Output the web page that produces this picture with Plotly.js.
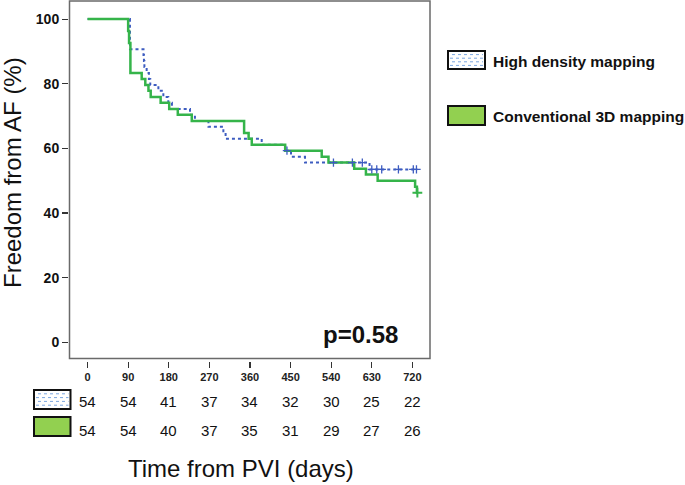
<!DOCTYPE html>
<html><head><meta charset="utf-8">
<script src="https://cdn.plot.ly/plotly-3.0.1.min.js"></script>
<style>html,body{margin:0;padding:0;background:#fff}</style>
</head><body><div id="chart" style="width:685px;height:485px"></div>
<script>
// ---- data ----
const seriesNames = ["High density mapping", "Conventional 3D mapping"];
const hdDays = [0, 94, 124, 125, 126, 131, 136, 139, 157, 168, 179, 187, 227, 238, 268, 301, 306, 386, 438, 451, 482, 625, 731];
const hdSurv = [100, 90.7, 88.9, 87.0, 85.2, 83.3, 81.5, 79.6, 77.8, 75.9, 74.1, 72.2, 70.4, 68.5, 66.7, 64.8, 63.0, 61.1, 59.3, 57.4, 55.6, 53.5, 53.5];
const hdCensDays = [442, 545, 587, 609, 630, 641, 652, 689, 722, 729];
const hdCensSurv = [59.3, 55.6, 55.6, 55.6, 53.5, 53.5, 53.5, 53.5, 53.5, 53.5];
const c3dDays = [0, 90, 92, 95, 120, 128, 135, 140, 162, 181, 200, 231, 347, 357, 364, 438, 519, 534, 591, 617, 643, 726, 730, 731];
const c3dSurv = [100, 96.3, 92.6, 83.3, 81.5, 79.6, 77.8, 75.9, 74.1, 72.2, 70.4, 68.5, 64.8, 63.0, 61.1, 59.3, 57.4, 55.6, 53.7, 51.9, 50.0, 48.1, 46.3, 46.3];
const c3dCensDays = [731];
const c3dCensSurv = [46.3];
const tickDays = [0, 90, 180, 270, 360, 450, 540, 630, 720];
const yTicks = [0, 20, 40, 60, 80, 100];
const hdRisk = [54, 54, 41, 37, 34, 32, 30, 25, 22];
const c3dRisk = [54, 54, 40, 37, 35, 31, 29, 27, 26];
const pText = "p=0.58";

// ---- styling ----
const W = 685, H = 485;
const fx = p => p / W, fy = p => 1 - p / H;
const BLUE = "#3d5cc0", GREEN = "#35b44a", SWGREEN = "#92d050";
const FONT = "Arial, 'Liberation Sans', sans-serif";

const traces = [
  {x: hdDays, y: hdSurv, type: "scatter", mode: "lines", line: {shape: "hv", color: BLUE, width: 2, dash: "dot"}, name: seriesNames[0], hoverinfo: "skip"},
  {x: c3dDays, y: c3dSurv, type: "scatter", mode: "lines", line: {shape: "hv", color: GREEN, width: 2.5}, name: seriesNames[1], hoverinfo: "skip"},
  {x: hdCensDays, y: hdCensSurv, type: "scatter", mode: "markers", marker: {symbol: "cross-thin", size: 6, line: {color: BLUE, width: 1.3}}, hoverinfo: "skip"},
  {x: c3dCensDays, y: c3dCensSurv, type: "scatter", mode: "markers", marker: {symbol: "cross-thin", size: 7, line: {color: GREEN, width: 2}}, hoverinfo: "skip"}
];

const shapes = [
  {type: "rect", xref: "x domain", yref: "y domain", x0: 0, x1: 1, y0: 0, y1: 1, line: {color: "#6a6a6a", width: 1.5}, fillcolor: "rgba(0,0,0,0)"}
];
function swatch(x0, y0, x1, y1, fill, hatched) {
  shapes.push({type: "rect", xref: "paper", yref: "paper", x0: fx(x0), x1: fx(x1), y0: fy(y1), y1: fy(y0), fillcolor: fill, line: {color: "#111", width: 2}});
  if (hatched) {
    const n = 4, step = (y1 - y0) / (n + 1);
    for (let i = 1; i <= n; i++) {
      const yy = y0 + step * i;
      shapes.push({type: "line", xref: "paper", yref: "paper", x0: fx(x0 + 2 + (i % 2) * 2), x1: fx(x1 - 2), y0: fy(yy), y1: fy(yy), line: {color: "#7aa6e0", width: 1, dash: "3px,3px"}});
    }
  }
}
swatch(448, 51, 485, 69, "#ffffff", true);
swatch(448, 106, 485, 125, SWGREEN, false);
swatch(34, 390, 70.5, 409, "#ffffff", true);
swatch(34, 417, 70.5, 436, SWGREEN, false);

const annotations = [];
tickDays.forEach((d, i) => {
  annotations.push({x: d, xref: "x", y: fy(401), yref: "paper", text: String(hdRisk[i]), showarrow: false, xanchor: "center", yanchor: "middle", font: {family: FONT, size: 15, color: "#111"}});
  annotations.push({x: d, xref: "x", y: fy(430.5), yref: "paper", text: String(c3dRisk[i]), showarrow: false, xanchor: "center", yanchor: "middle", font: {family: FONT, size: 15, color: "#111"}});
});
annotations.push({x: fx(491), y: fy(61), xref: "paper", yref: "paper", text: seriesNames[0], showarrow: false, xanchor: "left", yanchor: "middle", font: {family: FONT, size: 15.5, weight: 700, color: "#111"}});
annotations.push({x: fx(491), y: fy(116), xref: "paper", yref: "paper", text: seriesNames[1], showarrow: false, xanchor: "left", yanchor: "middle", font: {family: FONT, size: 15.5, weight: 700, color: "#111"}});
annotations.push({x: fx(360), y: fy(334), xref: "paper", yref: "paper", text: pText, showarrow: false, xanchor: "center", yanchor: "middle", font: {family: FONT, size: 24, weight: 700, color: "#111"}});
annotations.push({x: fx(241), y: fy(468), xref: "paper", yref: "paper", text: "Time from PVI (days)", showarrow: false, xanchor: "center", yanchor: "middle", font: {family: FONT, size: 24, color: "#111"}});
annotations.push({x: fx(12), y: fy(173), xref: "paper", yref: "paper", text: "Freedom from AF (%)", textangle: -90, showarrow: false, xanchor: "center", yanchor: "middle", font: {family: FONT, size: 24, color: "#111"}});

const layout = {
  width: W, height: H, margin: {l: 0, r: 0, t: 0, b: 0},
  paper_bgcolor: "#fff", plot_bgcolor: "#fff", showlegend: false,
  font: {family: FONT, color: "#111"},
  xaxis: {domain: [fx(69.5), fx(430)], range: [-40, 759], anchor: "free", position: fy(361),
    tickvals: tickDays, ticktext: tickDays.map(String), ticks: "outside", ticklen: 6, tickwidth: 1.2, tickcolor: "#333",
    showline: false, showgrid: false, zeroline: false, tickfont: {family: FONT, size: 11, weight: 700, color: "#222"}},
  yaxis: {domain: [fy(358.5), fy(1)], range: [-5, 105.6], anchor: "free", position: fx(68),
    tickvals: yTicks, ticktext: yTicks.map(String), ticks: "outside", ticklen: 6, tickwidth: 1.2, tickcolor: "#333",
    showline: false, showgrid: false, zeroline: false, tickfont: {family: FONT, size: 14, weight: 700, color: "#111"}},
  shapes: shapes, annotations: annotations
};
Plotly.newPlot("chart", traces, layout, {displayModeBar: false, staticPlot: true});
</script></body></html>
